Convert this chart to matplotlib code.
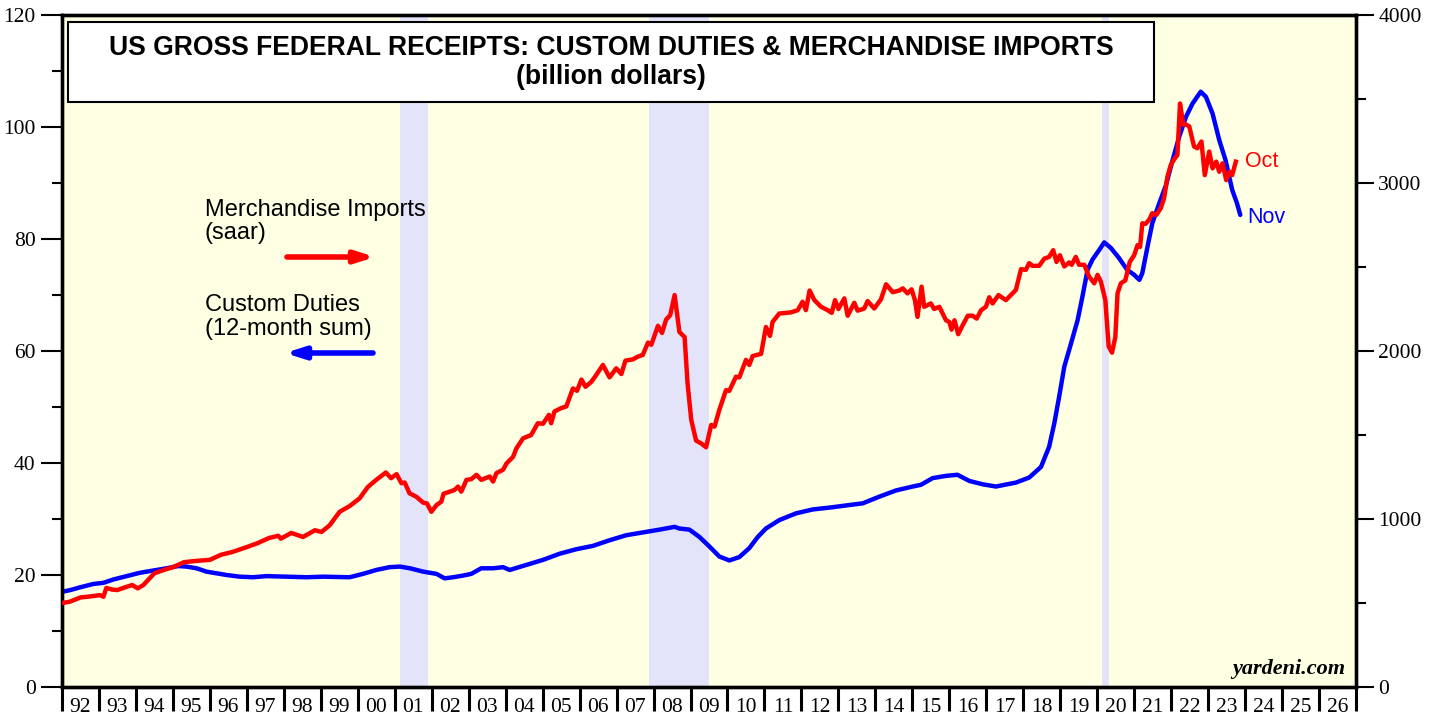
import matplotlib.pyplot as plt
from matplotlib.patches import Rectangle
from matplotlib.ticker import MultipleLocator, FixedLocator, NullFormatter
import numpy as np

# Custom duties, 12-month sum (billion dollars, left axis)
duties_t = [1992.0, 1992.22, 1992.49, 1992.85, 1993.12, 1993.39, 1993.75, 1994.11, 1994.47,
            1994.83, 1995.14, 1995.37, 1995.64, 1995.91, 1996.18, 1996.45, 1996.81, 1997.17,
            1997.53, 1998.07, 1998.61, 1999.06, 1999.78, 2000.14, 2000.5, 2000.86, 2001.14,
            2001.41, 2001.77, 2002.13, 2002.35, 2002.58, 2002.85, 2003.07, 2003.34, 2003.66,
            2003.93, 2004.11, 2004.56, 2005.01, 2005.46, 2005.91, 2006.36, 2006.81, 2007.26,
            2007.71, 2008.16, 2008.57, 2008.7, 2008.97, 2009.24, 2009.51, 2009.78, 2010.05,
            2010.32, 2010.59, 2010.82, 2011.04, 2011.4, 2011.85, 2012.3, 2012.84, 2013.3,
            2013.66, 2014.11, 2014.56, 2015.01, 2015.23, 2015.55, 2015.91, 2016.22, 2016.54,
            2016.9, 2017.26, 2017.8, 2018.16, 2018.48, 2018.7, 2018.84, 2018.97, 2019.11,
            2019.29, 2019.47, 2019.6, 2019.74, 2019.87, 2020.05, 2020.19, 2020.37, 2020.59,
            2020.81, 2021.0, 2021.14, 2021.22, 2021.36, 2021.49, 2021.68, 2021.86, 2022.04,
            2022.22, 2022.4, 2022.58, 2022.8, 2022.94, 2023.12, 2023.3, 2023.47, 2023.65,
            2023.78, 2023.87]
duties = [17.0, 17.3, 17.8, 18.4, 18.6, 19.2, 19.8, 20.4, 20.8,
          21.2, 21.6, 21.5, 21.2, 20.6, 20.3, 20.0, 19.7, 19.6,
          19.8, 19.7, 19.6, 19.7, 19.6, 20.2, 20.9, 21.4, 21.5,
          21.2, 20.6, 20.2, 19.4, 19.6, 19.9, 20.2, 21.2, 21.2,
          21.4, 20.9, 21.8, 22.7, 23.8, 24.6, 25.2, 26.2, 27.1,
          27.6, 28.1, 28.6, 28.3, 28.1, 26.8, 25.1, 23.3, 22.6,
          23.2, 24.8, 26.8, 28.3, 29.8, 31.0, 31.7, 32.1, 32.5,
          32.8, 34.0, 35.1, 35.8, 36.1, 37.3, 37.7, 37.9, 36.8,
          36.2, 35.8, 36.5, 37.4, 39.3, 42.9, 47.1, 51.8, 57.2,
          61.3, 65.5, 69.7, 74.5, 76.3, 78.0, 79.4, 78.4, 76.6,
          74.5, 73.6, 72.7, 73.9, 78.6, 82.8, 86.4, 89.6, 94.1,
          98.3, 101.8, 104.2, 106.3, 105.4, 102.4, 97.7, 94.1, 88.8,
          86.4, 84.3]

# Merchandise imports, saar (billion dollars, right axis)
imports_t = [1992.0, 1992.2, 1992.5, 1992.8, 1993.03, 1993.12, 1993.2, 1993.35, 1993.5, 1993.7,
             1993.9, 1994.05, 1994.2, 1994.5, 1994.8, 1995.0, 1995.3, 1995.6, 1996.0, 1996.3,
             1996.6, 1997.0, 1997.3, 1997.6, 1997.85, 1997.92, 1998.2, 1998.52, 1998.84, 1999.02,
             1999.24, 1999.51, 1999.78, 2000.05, 2000.27, 2000.5, 2000.76, 2000.9, 2001.05, 2001.18,
             2001.27, 2001.4, 2001.58, 2001.77, 2001.87, 2001.99, 2002.13, 2002.26, 2002.32, 2002.49,
             2002.62, 2002.71, 2002.8, 2002.94, 2003.07, 2003.21, 2003.34, 2003.57, 2003.66, 2003.75,
             2003.93, 2004.02, 2004.2, 2004.29, 2004.47, 2004.69, 2004.87, 2005.01, 2005.17, 2005.23,
             2005.32, 2005.5, 2005.64, 2005.82, 2005.93, 2006.05, 2006.16, 2006.32, 2006.45, 2006.63,
             2006.81, 2006.99, 2007.13, 2007.24, 2007.44, 2007.58, 2007.71, 2007.85, 2007.94, 2008.12,
             2008.23, 2008.34, 2008.45, 2008.57, 2008.7, 2008.84, 2008.92, 2009.02, 2009.15, 2009.29,
             2009.42, 2009.56, 2009.65, 2009.78, 2009.96, 2010.05, 2010.23, 2010.32, 2010.5, 2010.59,
             2010.68, 2010.91, 2011.04, 2011.15, 2011.22, 2011.4, 2011.72, 2011.9, 2012.03, 2012.12,
             2012.22, 2012.35, 2012.53, 2012.71, 2012.82, 2012.91, 2013.0, 2013.16, 2013.25, 2013.43,
             2013.52, 2013.7, 2013.79, 2013.97, 2014.15, 2014.29, 2014.47, 2014.65, 2014.74, 2014.87,
             2014.98, 2015.07, 2015.14, 2015.25, 2015.32, 2015.5, 2015.59, 2015.73, 2015.91, 2016.0,
             2016.06, 2016.14, 2016.24, 2016.36, 2016.5, 2016.63, 2016.74, 2016.86, 2016.99, 2017.08,
             2017.17, 2017.33, 2017.53, 2017.8, 2017.94, 2018.07, 2018.16, 2018.25, 2018.43, 2018.57,
             2018.7, 2018.81, 2018.9, 2018.99, 2019.11, 2019.24, 2019.31, 2019.42, 2019.51, 2019.65,
             2019.78, 2019.92, 2020.01, 2020.1, 2020.22, 2020.31, 2020.4, 2020.49, 2020.55, 2020.64,
             2020.76, 2020.88, 2021.0, 2021.09, 2021.16, 2021.22, 2021.31, 2021.41, 2021.49, 2021.6,
             2021.72, 2021.81, 2021.9, 2021.99, 2022.1, 2022.17, 2022.24, 2022.33, 2022.41, 2022.49,
             2022.62, 2022.71, 2022.82, 2022.91, 2023.03, 2023.12, 2023.22, 2023.3, 2023.39, 2023.49,
             2023.58, 2023.65, 2023.75]
imports = [500, 507, 533, 540, 547, 537, 590, 580, 577, 593,
           607, 587, 607, 677, 700, 713, 743, 750, 757, 787,
           803, 833, 857, 887, 900, 883, 917, 893, 933, 923,
           963, 1043, 1077, 1123, 1190, 1233, 1277, 1243, 1267, 1213,
           1217, 1153, 1133, 1097, 1093, 1043, 1083, 1103, 1150, 1163,
           1173, 1193, 1163, 1233, 1237, 1263, 1233, 1253, 1223, 1273,
           1293, 1330, 1370, 1420, 1480, 1500, 1570, 1567, 1620, 1570,
           1640, 1660, 1670, 1777, 1763, 1830, 1787, 1817, 1857, 1917,
           1843, 1897, 1863, 1943, 1950, 1967, 1977, 2050, 2037, 2150,
           2107, 2187, 2213, 2333, 2113, 2083, 1807, 1590, 1467, 1450,
           1427, 1560, 1550, 1650, 1767, 1763, 1847, 1843, 1947, 1917,
           1970, 1983, 2143, 2090, 2173, 2223, 2230, 2243, 2293, 2243,
           2360, 2303, 2263, 2243, 2227, 2303, 2250, 2313, 2210, 2287,
           2240, 2253, 2297, 2253, 2307, 2397, 2350, 2360, 2373, 2343,
           2367, 2303, 2203, 2383, 2263, 2283, 2250, 2263, 2183, 2173,
           2127, 2183, 2100, 2153, 2210, 2210, 2193, 2243, 2263, 2320,
           2283, 2333, 2303, 2363, 2487, 2483, 2523, 2507, 2507, 2550,
           2560, 2600, 2530, 2570, 2503, 2527, 2513, 2560, 2513, 2513,
           2443, 2403, 2453, 2413, 2303, 2027, 1990, 2083, 2343, 2403,
           2420, 2530, 2570, 2630, 2620, 2760, 2757, 2783, 2820, 2810,
           2850, 2910, 3037, 3107, 3147, 3167, 3473, 3347, 3347, 3337,
           3217, 3207, 3247, 3047, 3187, 3087, 3127, 3067, 3117, 3017,
           3067, 3047, 3127]

# recession periods (start, end)
recessions = [(2001.14, 2001.89), (2007.89, 2009.49), (2020.14, 2020.32)]

years = list(range(1992, 2028))
year_labels = [f"{y % 100:02d}" for y in years[:-1]]

bg = '#FFFFE3'
serif = 'Liberation Serif'
sans = 'Liberation Sans'

fig = plt.figure(figsize=(14.38, 7.19), dpi=100)
ax = fig.add_axes([62 / 1438, 32 / 719, 1294 / 1438, 672 / 719])
ax.set_facecolor(bg)

for a, b in recessions:
    ax.axvspan(a, b, color='#E3E3FA', lw=0, zorder=0)

ax.plot(duties_t, duties, color='#0000FF', lw=3.2, solid_capstyle='round', zorder=3)
ax.set_xlim(1992, 2027)
ax.set_ylim(0, 120)

ax2 = ax.twinx()
ax2.plot(imports_t, imports, color='#FF0000', lw=3.2, solid_joinstyle='round', zorder=3)
ax2.set_ylim(0, 4000)

# axes frame and ticks
for a in (ax, ax2):
    for s in a.spines.values():
        s.set_linewidth(2.4)
        s.set_color('black')

ax.xaxis.set_major_locator(FixedLocator(years))
ax.xaxis.set_major_formatter(NullFormatter())
ax.xaxis.set_minor_locator(FixedLocator([y + 0.5 for y in years[:-1]]))
ax.set_xticklabels(year_labels, minor=True)
ax.tick_params(axis='x', which='major', direction='out', length=17, width=2.2)
ax.tick_params(axis='x', which='minor', length=0, pad=8, labelsize=15.5)

ax.yaxis.set_major_locator(MultipleLocator(20))
ax.yaxis.set_minor_locator(MultipleLocator(10))
ax.tick_params(axis='y', which='major', direction='out', length=15, width=1.5, labelsize=15.5, pad=4)
ax.tick_params(axis='y', which='minor', direction='out', length=7, width=1.5)

ax2.yaxis.set_major_locator(MultipleLocator(1000))
ax2.yaxis.set_minor_locator(MultipleLocator(500))
ax2.tick_params(axis='y', which='major', direction='out', length=13, width=1.5, labelsize=15.5, pad=3)
ax2.tick_params(axis='y', which='minor', direction='out', length=7, width=1.5)

for lab in ax.get_xticklabels(minor=True) + ax.get_yticklabels() + ax2.get_yticklabels():
    lab.set_fontfamily(serif)

# title box
tr = ax2.transAxes
ax2.add_patch(Rectangle((6 / 1294, 585 / 672), 1086 / 1294, 80 / 672, transform=tr,
                        facecolor='white', edgecolor='black', lw=1.5, zorder=5))
ax2.text(0.4243, 0.951, 'US GROSS FEDERAL RECEIPTS: CUSTOM DUTIES & MERCHANDISE IMPORTS',
         transform=tr, ha='center', va='center', fontsize=19.1, fontweight='bold',
         family=sans, zorder=6)
ax2.text(0.4243, 0.9077, '(billion dollars)', transform=tr, ha='center', va='center',
         fontsize=19.1, fontweight='bold', family=sans, zorder=6)

# series labels with arrows
lx = (205 - 62) / 1294
for txt, ybase in [('Merchandise Imports', 216), ('(saar)', 239),
                   ('Custom Duties', 311), ('(12-month sum)', 335)]:
    ax2.text(lx, (687 - ybase) / 672, txt, transform=tr, ha='left', va='baseline',
             fontsize=17, family=sans, zorder=6)

ax2.annotate('', xy=((375 - 62) / 1294, (687 - 257) / 672),
             xytext=((287 - 62) / 1294, (687 - 257) / 672), xycoords=tr, textcoords=tr,
             arrowprops=dict(arrowstyle='-|>,head_length=1.1,head_width=0.35', color='#FF0000',
                             lw=4, shrinkA=0, shrinkB=0), zorder=6)
ax2.annotate('', xy=((285 - 62) / 1294, (687 - 353) / 672),
             xytext=((373 - 62) / 1294, (687 - 353) / 672), xycoords=tr, textcoords=tr,
             arrowprops=dict(arrowstyle='-|>,head_length=1.1,head_width=0.35', color='#0000FF',
                             lw=4, shrinkA=0, shrinkB=0), zorder=6)

# end-of-series labels
ax2.text(imports_t[-1] + 0.25, imports[-1], 'Oct', color='#FF0000', fontsize=15.5,
         family=sans, ha='left', va='center', zorder=6)
ax.text(duties_t[-1] + 0.2, duties[-1] - 0.4, 'Nov', color='#0000FF', fontsize=15.5,
        family=sans, ha='left', va='center', zorder=6)

ax2.text(0.992, 0.012, 'yardeni.com', transform=tr, ha='right', va='bottom',
         fontsize=16, fontweight='bold', style='italic', family=serif, zorder=6)

fig.savefig('out.png', dpi=100, facecolor='white')
